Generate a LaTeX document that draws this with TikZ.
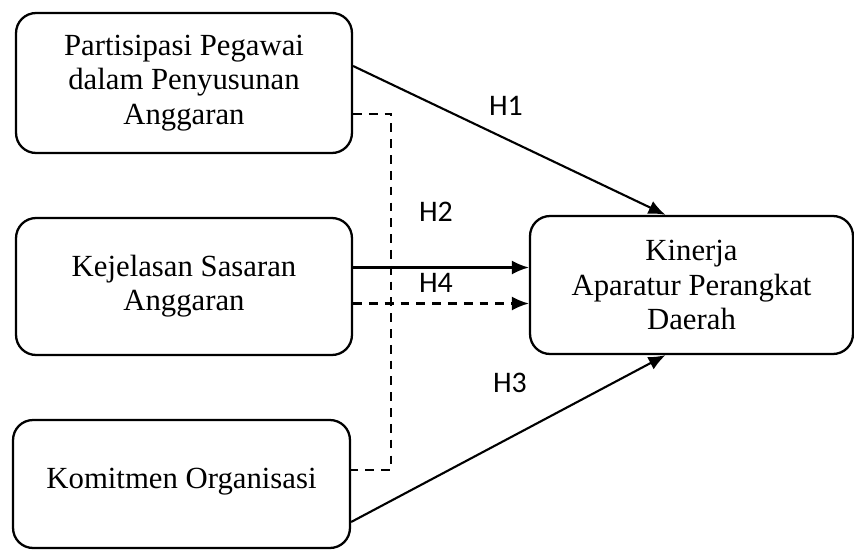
\documentclass[tikz,border=0pt]{standalone}
\usepackage{fontspec}
\setmainfont{Liberation Serif}
\newfontfamily\hypfont{Carlito}
\usetikzlibrary{arrows.meta,positioning,calc}

\begin{document}
\begin{tikzpicture}[x=0.02cm,y=-0.02cm,
  var/.style={draw, rounded corners=0.4cm, line width=1.3pt, align=center,
    inner sep=0pt, font=\fontsize{17.5}{19.5}\selectfont},
  hyp/.style={font=\hypfont\fontsize{17}{20}\selectfont},
  link/.style={line width=1.2pt, -{Latex[length=3.4mm,width=2.8mm]}},
  moder/.style={line width=1.1pt, dashed, dash pattern=on 5pt off 4pt}]
\useasboundingbox (0,0) rectangle (854,551);
% variables
\node[var, minimum width=6.72cm, minimum height=2.8cm] (pp) at (184,83)
  {Partisipasi Pegawai\\dalam Penyusunan\\Anggaran};
\node[var, minimum width=6.72cm, minimum height=2.74cm] (ks) at (184,286.5)
  {Kejelasan Sasaran\\Anggaran};
\node[var, minimum width=6.74cm, minimum height=2.56cm] (km) at (181.5,484)
  {\raisebox{6pt}{Komitmen Organisasi}};
\node[var, minimum width=6.46cm, minimum height=2.76cm] (kin) at (691.5,285)
  {Kinerja\\Aparatur Perangkat\\Daerah};
% hypotheses
\coordinate (h1s) at ($(pp.east)+(0,-17)$);
\coordinate (h1e) at ($(kin.north)+(-26,0)$);
\coordinate (h2s) at ($(ks.east)+(0,-19)$);
\coordinate (h4s) at ($(ks.east)+(0,17)$);
\coordinate (h3s) at ($(km.east)+(0,38)$);
\coordinate (h3e) at ($(kin.south)+(-26,0)$);
\draw[link] (h1s) -- (h1e);
\draw[link] (h2s) -- (h2s -| kin.west);
\draw[link, dash pattern=on 5pt off 4pt] (h4s) -- (h4s -| kin.west);
\draw[link] (h3s) -- (h3e);
% moderating bracket
\coordinate (mtop) at ($(pp.east)+(0,31)$);
\coordinate (mbot) at ($(km.east)+(0,-14)$);
\draw[moder] (mtop) -- ++(38,0) |- (mbot);
\node[hyp] (lh1) at (506,106) {H1};
\node[hyp] (lh2) at (436,212) {H2};
\node[hyp] (lh4) at (436,283) {H4};
\node[hyp] (lh3) at (510,383) {H3};
\end{tikzpicture}
\end{document}
